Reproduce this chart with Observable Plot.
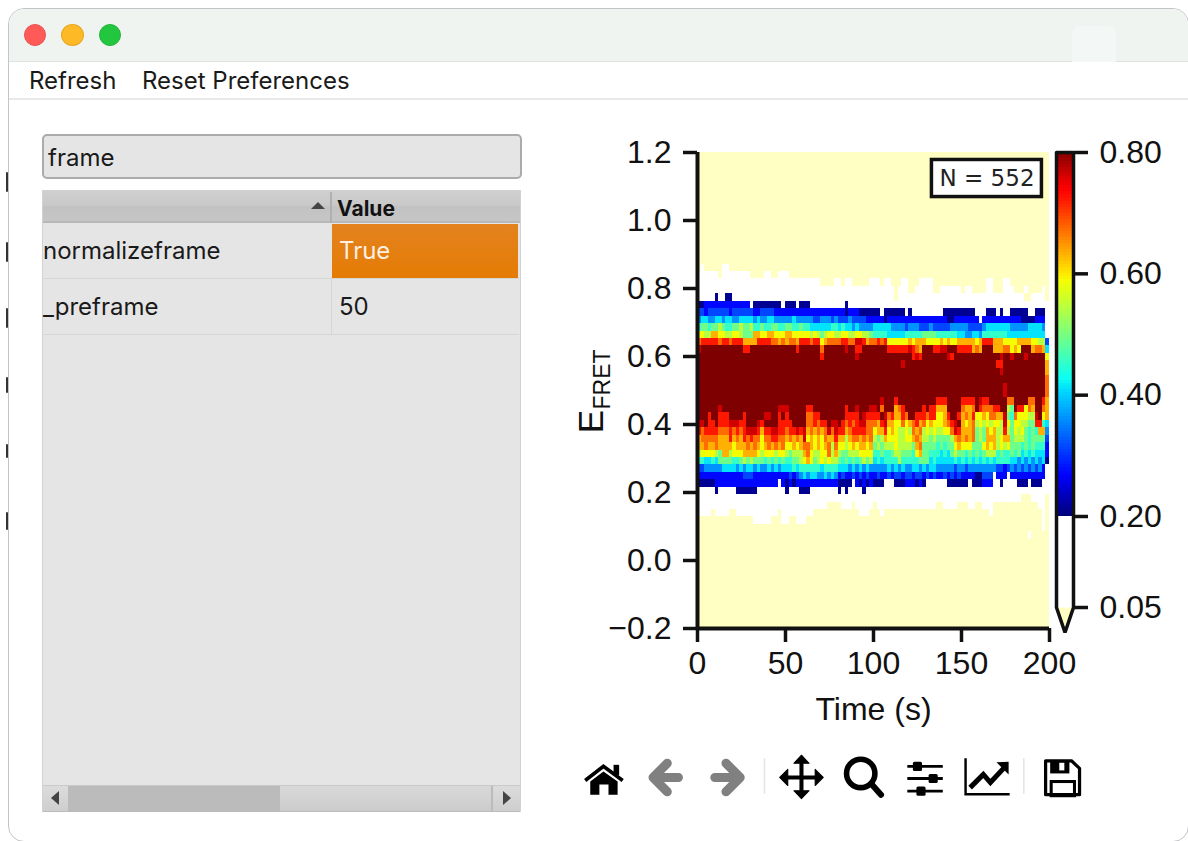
<!DOCTYPE html>
<html>
<head>
<meta charset="utf-8">
<script src="https://cdn.jsdelivr.net/npm/d3@7"></script>
<script src="https://cdn.jsdelivr.net/npm/@observablehq/plot@0.6"></script>
<style>
html,body{margin:0;padding:0;background:#fff;width:1188px;height:841px;overflow:hidden;font-family:Inter,"Noto Sans",sans-serif;color:#1a1a1a}
.a{position:absolute;box-sizing:border-box}
.t{position:absolute;white-space:nowrap;line-height:1}
svg{overflow:visible}
#main svg,#bar svg{background:transparent}
</style>
</head>
<body>
<!-- window frame -->
<div class="a" style="left:8px;top:8px;width:1181px;height:834px;border:1px solid #c4c4c8;border-radius:16px;background:#fff"></div>
<div class="a" style="left:9px;top:9px;width:1179px;height:53px;background:#eff4f1;border-radius:15px 15px 0 0;border-bottom:1px solid #dfe2e0"></div>
<div class="a" style="left:1072px;top:26px;width:44px;height:36px;background:#f3f7f5;border-radius:8px 8px 0 0"></div>
<div class="a" style="left:24px;top:24px;width:22px;height:22px;border-radius:50%;background:#fd5a58;border:1px solid #e9504e"></div>
<div class="a" style="left:61px;top:24px;width:23px;height:22px;border-radius:50%;background:#feb927;border:1px solid #e8a823"></div>
<div class="a" style="left:99px;top:24px;width:22px;height:22px;border-radius:50%;background:#23c63f;border:1px solid #20b539"></div>
<div class="a" style="left:9px;top:98px;width:1179px;height:2px;background:#e8e8e8"></div>
<div class="t" style="left:29px;top:69px;font-size:24px">Refresh</div>
<div class="t" style="left:142px;top:69px;font-size:24px">Reset Preferences</div>
<!-- edge marks -->
<div class="a" style="left:6px;top:172px;width:2px;height:20px;background:#333;border-radius:2px"></div>
<div class="a" style="left:6px;top:242px;width:2px;height:20px;background:#333;border-radius:2px"></div>
<div class="a" style="left:6px;top:308px;width:2px;height:20px;background:#333;border-radius:2px"></div>
<div class="a" style="left:6px;top:377px;width:2px;height:16px;background:#333;border-radius:2px"></div>
<div class="a" style="left:6px;top:444px;width:2px;height:14px;background:#333;border-radius:2px"></div>
<div class="a" style="left:6px;top:512px;width:2px;height:18px;background:#333;border-radius:2px"></div>
<!-- filter box -->
<div class="a" style="left:42px;top:134px;width:480px;height:45px;background:#e5e5e5;border:2px solid #ababab;border-radius:5px"></div>
<div class="t" style="left:48px;top:146px;font-size:24px">frame</div>
<!-- table -->
<div class="a" style="left:42px;top:190px;width:479px;height:622px;background:#e5e5e5;border:1px solid #d2d2d2"></div>
<div class="a" style="left:43px;top:191px;width:477px;height:32px;background:linear-gradient(#cfcfcf,#c9c9c9 48%,#c2c2c2 52%,#c6c6c6);border-bottom:2px solid #b8b8b8"></div>
<div class="a" style="left:330px;top:192px;width:2px;height:31px;background:#b0b0b0"></div>
<div class="a" style="left:311px;top:202px;width:0;height:0;border-left:7px solid transparent;border-right:7px solid transparent;border-bottom:7px solid #444"></div>
<div class="t" style="left:337px;top:198px;font-size:21px;font-weight:700;color:#111">Value</div>
<div class="a" style="left:332px;top:224px;width:186px;height:54px;background:linear-gradient(#e3831f,#e57b03)"></div>
<div class="t" style="left:339px;top:239px;font-size:24px;color:#fdf0e2">True</div>
<div class="t" style="left:43px;top:239px;font-size:24px">normalizeframe</div>
<div class="a" style="left:43px;top:278px;width:476px;height:1px;background:#d6d6d6"></div>
<div class="a" style="left:331px;top:279px;width:1px;height:55px;background:#d6d6d6"></div>
<div class="a" style="left:43px;top:334px;width:476px;height:1px;background:#d6d6d6"></div>
<div class="t" style="left:43px;top:295px;font-size:24px">_preframe</div>
<div class="t" style="left:339px;top:295px;font-size:24px">50</div>
<!-- scrollbar -->
<div class="a" style="left:43px;top:785px;width:477px;height:27px;background:#bbb;border-top:1px solid #c9c9c9"></div>
<div class="a" style="left:43px;top:786px;width:25px;height:25px;background:linear-gradient(#dcdcdc,#cecece)"></div>
<div class="a" style="left:493px;top:786px;width:27px;height:25px;background:linear-gradient(#dcdcdc,#cecece)"></div>
<div class="a" style="left:280px;top:786px;width:212px;height:25px;background:linear-gradient(#d8d8d8,#d3d3d3 50%,#cbcbcb);border-right:1px solid #bbb"></div>
<div class="a" style="left:51px;top:791px;width:0;height:0;border-top:7px solid transparent;border-bottom:7px solid transparent;border-right:8px solid #444"></div>
<div class="a" style="left:503px;top:791px;width:0;height:0;border-top:7px solid transparent;border-bottom:7px solid transparent;border-left:8px solid #444"></div>
<!-- toolbar -->
<svg class="a" style="left:570px;top:740px" width="530" height="70" viewBox="0 0 523.200 69.100">
  <path d="M15 40 L33 26 L52 40" fill="none" stroke="#000" stroke-width="3.6"/>
  <rect x="43" y="24.5" width="5.5" height="10"/>
  <path d="M20 41 L33 31 L47 41 V54 H38 V44 H29 V54 H20 Z"/>
  <path d="M96 23 L82 37 L96 51 M82 37 H107" fill="none" stroke="#808080" stroke-width="9" stroke-linecap="round" stroke-linejoin="round"/>
  <path d="M154 23 L168 37 L154 51 M168 37 H143" fill="none" stroke="#808080" stroke-width="9" stroke-linecap="round" stroke-linejoin="round"/>
  <path d="M192 18 V53 M448 18 V53" stroke="#e6e6e6" stroke-width="1.6"/>
  <path d="M228.500 22 V52 M213 37 H244" stroke="#000" stroke-width="4"/>
  <path d="M228.500 15 L236 23 H221 Z M228.500 58 L236 50 H221 Z M207 37 L215 29 V45 Z M250 37 L242 29 V45 Z" stroke="#000" stroke-width="1" stroke-linejoin="round"/>
  <circle cx="287" cy="33" r="14" fill="none" stroke="#000" stroke-width="5.500"/>
  <path d="M298 44 L307 54" stroke="#000" stroke-width="6" stroke-linecap="round"/>
  <path d="M333 26 H368 M333 38 H368 M333 50.500 H368" stroke="#000" stroke-width="2.800"/>
  <rect x="338.500" y="21.500" width="9" height="9" rx="1.500"/>
  <rect x="354" y="33.500" width="9" height="9" rx="1.500"/>
  <rect x="342" y="46" width="9" height="9" rx="1.500"/>
  <path d="M390.500 18 V53.500 H434" fill="none" stroke="#000" stroke-width="2.400"/>
  <path d="M395 47 L408 34 L415 42 L428 28" fill="none" stroke="#000" stroke-width="5"/>
  <path d="M433 21.500 V34 L421 22 Z"/>
  <path d="M469.500 20.500 H495 L503 28 V54 H469.500 Z" fill="none" stroke="#000" stroke-width="3.200" stroke-linejoin="round"/>
  <path d="M474 20 H493 V33 H474 Z"/>
  <rect x="483" y="22.500" width="5" height="7.500" fill="#fff"/>
  <rect x="475" y="41" width="23" height="14" fill="none" stroke="#000" stroke-width="3"/>
</svg>
<div id="main" class="a" style="left:560px;top:130px"></div>
<div id="bar" class="a" style="left:1040px;top:130px"></div>
<script>
// Binned heatmap: one string per row (row index from the bottom),
// one character per 2-second column, grouped in tens.
const row48 = ".w.....ww. .......... .......... .......... .......... .......... .......... .......... .......... ..........";
const row47 = "wwwwww.www wwwww....w w..www.... .......... .......... .......... .......... .......... .......... ..........";
const row46 = "wwwwwwwwww wwwwwwwwww wwwwwwwwww wwwww....w w.ww.....w ww.ww...ww ...wwww... .......... ..ww...ww. ..........";
const row45 = "wwwwwwwwww wwwwwwwwww wwwwwwwwww wwwwwwwwww wwwwwwwwww wwwwww.www ..wwwww..w wwwww.ww.. ..ww...www ...w....w.";
const row44 = "wwwww0ww00 wwwwwwwwww wwwwwwwwww wwwwwwwwww wwwwwwwwww wwwwww.www wwwwwwwwww wwwwwwwwww wwwwwwwwww www..wwww.";
const row43 = "0011111111 11111w0000 0000w000w0 00wwwwwwww ww0wwwwwww wwwwwwwwww wwwwwwwwww wwwwwwwwww wwwwwwwwww wwwwwwwwww";
const row42 = "2212222221 2222221122 2211111111 1111111111 1101110000 00w000000w 0wwwwwwwww 000000000w ww000w0ww0 0000ww000w";
const row41 = "3443344344 3344443433 4433333433 3332233323 2223222211 1110111111 1111111111 1001111111 w111111111 110000111w";
const row40 = "5665667655 6676675565 5665566556 5544444455 4544343333 4444433332 3332223222 2233333222 2344444443 333344443w";
const row39 = "8877998877 8876669988 9988899888 8878767887 7887788776 5555444445 5555666655 5555443344 3555555544 444444444w";
const row38 = "abbbbbabba bbb9999bbb baa9a9aa9b bbabb89aaa abbaaccb9a abab888888 9899988889 8988999998 9bbb999888 8999988772";
const row37 = "cddddddddd dddbbddddd ddddddddbd dddddadddd ddcddbbddd ddddbbbbbb cba9dddbbc cdddbbbb9a 9ddd999aa8 98ddd9aa94";
const row36 = "dddddddddd dddddddddd dddddddddd dddddbdddd dddddcdddd dddddddddd dbcbdddddd dcbddddddd ddddddcddc dddcddddd8";
const row35 = "dddddddddd dddddddddd dddddddddd dddddddddd dddddddddd ddddddddcd dddddddddd dddddddddd dddddbbddd ddddddddd9";
const row34 = "dddddddddd dddddddddd dddddddddd dddddddddd dddddddddd dddddddddd dddddddddd dddddddddd ddddddcddd ddddddddd9";
const row33 = "dddddddddd dddddddddd dddddddddd dddddddddd dddddddddd dddddddddd dddddddddd dddddddddd dddddddddd ddddddddda";
const row32 = "dddddddddd dddddddddd dddddddddd dddddddddd dddddddddd dddddddddd dddddddddd dddddddddd dddddddcdd ddddddddda";
const row31 = "dddddddddd dddddddddd dddddddddd dddddddddd dddddddddd dddddddddd dddddddddd dddddddddd dddddddcdd ddddddddda";
const row30 = "dddddddddd dddddddddd dddddddddd dddddddddd dddddddddd ddcdddbddd ddddddddbb bddddbbbbd cbbdddddaa ddddaaddb9";
const row29 = "ddddddcddd dddddddddd dddcccdddd dbbddddddd ddbddcdddc cdaddd9abd ddddbdbb99 9dddda99ad baaabbdd76 dbb8a9dda9";
const row28 = "dddbddbbbd dddbdddddc cddbdbdddd daabbddddd ddbbbbdcbb bbdcab99ba ddbbbabb88 9bddb9a9b8 898aa99c65 a88877cd89";
const row27 = "ccdbbdbbbc ccbbdddcbd dddbbbbddd daababbdcc dbababccaa a9bc9988a8 9ab9a89888 9abcd989a7 8787887c86 887766bb54";
const row26 = "babbbbaaab ababcccb9b bccbbabbcb c9a9a9acac bb9abbbbaa 899b898778 7a9a787877 88acb999a6 7698977b76 8786565993";
const row25 = "9aaaaa999b 9a9babaa8a abbaa9a9a9 c89898a99b 9979aa9a9a 7679888778 89a9776766 6679a9a9a6 7699978996 7776566662";
const row24 = "99a99a9999 8999a9a989 a9a9a88989 aa98989a7a 8878989989 6767778777 769a666656 5668988866 6898978786 6656565551";
const row23 = "7888876997 8889999878 8878876777 9a87788a79 7667778888 5565567766 6589665554 5467665656 5677756556 5645454441";
const row22 = "5544546666 5567676665 6565655667 8986787877 6565656767 4545555755 5556664544 4445454545 4545455554 4343434340";
const row21 = "2233333444 4343443433 4343444545 5555545555 4443434343 3333434343 3443434433 3332332333 3333322123 232323231w";
const row20 = "1111111111 1112221111 1111112123 4344334343 1211212121 1211212212 2122121211 2121211110 0222w111w1 111111111w";
const row19 = "0000011111 1111111111 111w101011 1111111111 0000w10101 000www0001 11010wwwww w000000w00 0111ww0www w000w000ww";
const row18 = "wwwww0wwww w000000www wwwww0www0 00wwwwwwww 0w0wwww0ww wwwwwwwwww wwwwwwwwww wwwwwwwwww wwwwwwwwww wwwwwwwwww";
const row17 = "wwwwwwwwww wwwwwwwwww wwwwwwwwww wwwwwwwwww wwwwwwwwww wwwwwwwwww wwwwwwwwww wwwwwwwwww wwwwwwwwww ww...wwww.";
const row16 = "wwwwwwwwww wwwwwwwwww wwwwwwwwww wwwwwww... .www.wwwww .wwwwwwwww wwwwwwww.. wwww...ww. .www...... .......ww.";
const row15 = "wwww.wwww. .wwwwwwwww www.wwwwww www....... ......www. ..w....... .......... .......... ...w...... ........w.";
const row14 = ".......... ......wwww w...ww..ww w......... .......... .......... .......... .......... .......... ........w.";
const row13 = ".......... .......... .......... .......... .......... .......... .......... .......... .......... ........w.";
const row12 = ".......... .......... .......... .......... .......... .......... .......... .......... .......... ....w.....";

const rowStrings = {48:row48,47:row47,46:row46,45:row45,44:row44,43:row43,42:row42,41:row41,40:row40,39:row39,38:row38,37:row37,36:row36,35:row35,34:row34,33:row33,32:row32,31:row31,30:row30,29:row29,28:row28,27:row27,26:row26,25:row25,24:row24,23:row23,22:row22,21:row21,20:row20,19:row19,18:row18,17:row17,16:row16,15:row15,14:row14,13:row13,12:row12};

const levelCodes  = [".", "w", "0", "1", "2", "3", "4", "5", "6", "7", "8", "9", "a", "b", "c", "d"];
const levelValues = [0.02, 0.1, 0.21, 0.27, 0.31, 0.36, 0.41, 0.45, 0.49, 0.54, 0.585, 0.63, 0.67, 0.72, 0.76, 0.8];

const xTicks = [0, 50, 100, 150, 200];
const yTicks = [-0.2, 0, 0.2, 0.4, 0.6, 0.8, 1, 1.2];
const barTicks = [0.05, 0.2, 0.4, 0.6, 0.8];

const colorDomain = [0, 0.0499, 0.05, 0.1999, 0.2, 0.266, 0.404, 0.425, 0.5, 0.584, 0.596, 0.734, 0.746, 0.8];
const colorRange  = ["#ffffc4", "#ffffc4", "#ffffff", "#ffffff", "#00007f", "#0000ff", "#00d8ff", "#0cfff0", "#7dff7a", "#f4ff03", "#ffea00", "#ff0000", "#ee0000", "#7f0000"];
const colorScale = {type: "linear", domain: colorDomain, range: colorRange, clamp: true};

const COLS = 100, ROWS = 64, colW = 2, rowH = 1.4 / ROWS, yMin = -0.2;
const cells = [];
for (let k = 0; k < ROWS; k++) {
  const s = (rowStrings[k] || "").replace(/ /g, "");
  for (let i = 0; i < COLS; i++) {
    cells.push({
      x1: i * colW, x2: (i + 1) * colW,
      y1: yMin + k * rowH, y2: yMin + (k + 1) * rowH,
      v: levelValues[Math.max(0, levelCodes.indexOf(s[i] || "."))]
    });
  }
}

const axisFont = "'Liberation Sans', Arial, sans-serif";
const main = Plot.plot({
  width: 530, height: 608,
  marginLeft: 137, marginRight: 41, marginTop: 22, marginBottom: 110,
  style: {fontFamily: axisFont, background: "transparent", color: "#111"},
  x: {domain: [0, 200], axis: null},
  y: {domain: [-0.2, 1.2], axis: null},
  color: colorScale,
  marks: [
    Plot.rect(cells, {x1: "x1", x2: "x2", y1: "y1", y2: "y2", fill: "v", shapeRendering: "crispEdges"}),
    Plot.axisX({ticks: xTicks, tickSize: 14, tickPadding: 9, fontSize: 32, strokeWidth: 3.5, label: null, tickFormat: d3.format("d"), anchor: "bottom"}),
    Plot.axisY({ticks: yTicks, tickSize: 14, tickPadding: 12, fontSize: 32, strokeWidth: 3.5, label: null, tickFormat: d3.format(".1f"), anchor: "left"}),
    Plot.ruleX([0], {strokeWidth: 4, stroke: "#111"}),
    Plot.ruleY([-0.2], {strokeWidth: 4, stroke: "#111"}),
    Plot.text(["Time (s)"], {frameAnchor: "bottom", dy: 91, fontSize: 32, fill: "#111"}),
    Plot.text(["E"], {frameAnchor: "left", textAnchor: "middle", dx: -106, dy: 31, rotate: -90, fontSize: 35, fill: "#111"}),
    Plot.text(["FRET"], {frameAnchor: "left", textAnchor: "middle", dx: -95, dy: -11, rotate: -90, fontSize: 23, fill: "#111"}),
    Plot.rect([{}], {x1: () => 133.2, x2: () => 195.7, y1: () => 1.069, y2: () => 1.178, fill: "#fff", stroke: "#111", strokeWidth: 3.5}),
    Plot.text(["N = 552"], {x: () => 164.5, y: () => 1.1235, fontFamily: "'DejaVu Sans'", fontSize: 23, fill: "#222"})
  ]
});
document.getElementById("main").appendChild(main);

// colour bar: the same colour scale, sampled along its own axis
const barTip = 0.0088;
const barSteps = d3.range(0.05, 0.8, 0.005).map(v => ({v0: v, v1: v + 0.005, v}));
const barOutline = [[0, 0.8], [1, 0.8], [1, 0.05], [0.5, barTip], [0, 0.05], [0, 0.8]];
const bar = Plot.plot({
  width: 148, height: 512,
  marginLeft: 16, marginRight: 115, marginTop: 22, marginBottom: 10,
  style: {fontFamily: axisFont, background: "transparent", color: "#111"},
  x: {domain: [0, 1], axis: null},
  y: {domain: [barTip, 0.8], axis: null},
  color: colorScale,
  marks: [
    Plot.rect(barSteps, {x1: () => 0, x2: () => 1, y1: "v0", y2: "v1", fill: "v", shapeRendering: "crispEdges"}),
    Plot.line([[0, 0.05], [1, 0.05], [0.5, barTip], [0, 0.05]], {x: d => d[0], y: d => d[1], fill: "#ffffc4", stroke: "none"}),
    Plot.axisY({ticks: barTicks, anchor: "right", tickSize: 14, tickPadding: 12, fontSize: 32, strokeWidth: 3.5, label: null, tickFormat: d3.format(".2f")}),
    Plot.line(barOutline, {x: d => d[0], y: d => d[1], stroke: "#111", strokeWidth: 3.5, strokeLinejoin: "miter"})
  ]
});
document.getElementById("bar").appendChild(bar);
</script>
</body>
</html>
